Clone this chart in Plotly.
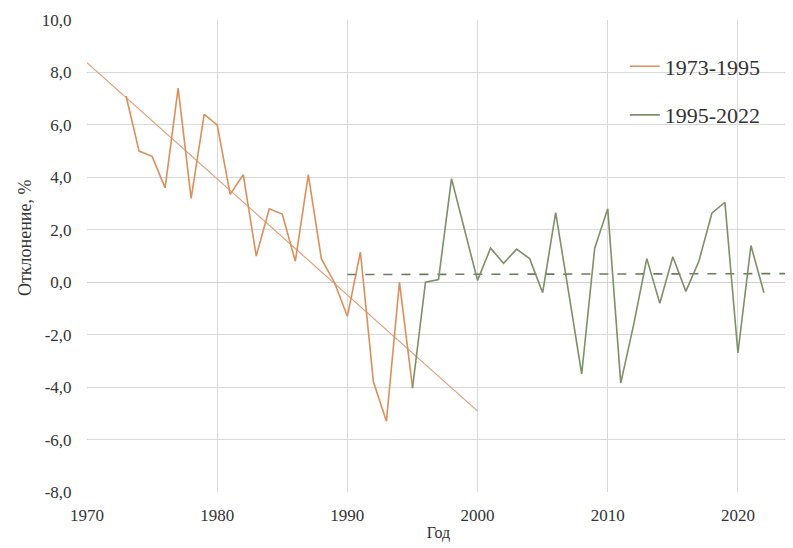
import numpy as np
import plotly.graph_objects as go

# Data
years_a = list(range(1973, 1996))
vals_a = [7.1, 5.0, 4.8, 3.6, 7.4, 3.2, 6.4, 6.0, 3.35, 4.1, 1.0, 2.8, 2.6, 0.8,
          4.1, 0.9, 0.0, -1.3, 1.15, -3.8, -5.3, 0.0, -4.0]

years_b = list(range(1995, 2023))
vals_b = [-4.05, 0.0, 0.1, 3.95, 2.0, 0.07, 1.3, 0.72, 1.26, 0.9, -0.4, 2.65, -0.4,
          -3.5, 1.3, 2.8, -3.85, -1.6, 0.9, -0.8, 0.97, -0.35, 0.8, 2.63, 3.05,
          -2.7, 1.4, -0.4]

name_a = "1973-1995"
name_b = "1995-2022"

y_ticks = [10, 8, 6, 4, 2, 0, -2, -4, -6, -8]
y_ticktext = ["10,0", "8,0", "6,0", "4,0", "2,0", "0,0", "-2,0", "-4,0", "-6,0", "-8,0"]
x_ticks = [1970, 1980, 1990, 2000, 2010, 2020]

trend_a_span = [1970, 2000]
trend_b_span = [1990, 2024]

col_a = "#dc8f5a"
col_a_trend = "#e3a07a"
col_b = "#7b9166"
col_b_trend = "#6b7b5e"

# Linear trendlines fitted from data
ka, ba = np.polyfit(years_a, vals_a, 1)
kb, bb = np.polyfit(years_b, vals_b, 1)
tx_a = np.array(trend_a_span, dtype=float)
tx_b = np.array(trend_b_span, dtype=float)

fig = go.Figure()
fig.add_trace(go.Scatter(x=tx_a, y=ka * tx_a + ba, mode="lines",
                         line=dict(color=col_a_trend, width=1.2),
                         showlegend=False, hoverinfo="skip"))
fig.add_trace(go.Scatter(x=tx_b, y=kb * tx_b + bb, mode="lines",
                         line=dict(color=col_b_trend, width=1.6, dash="dash"),
                         showlegend=False, hoverinfo="skip"))
fig.add_trace(go.Scatter(x=years_a, y=vals_a, mode="lines", name=name_a,
                         legendgroup="a",
                         line=dict(color=col_a, width=1.6)))
fig.add_trace(go.Scatter(x=years_b, y=vals_b, mode="lines", name=name_b,
                         legendgroup="b",
                         line=dict(color=col_b, width=1.6)))

font_family = "Liberation Serif, Times New Roman, serif"

# page body has an 8px margin, so the figure is sized to fit the 793x548 window
fig.update_layout(
    width=785, height=540,
    margin=dict(l=79, r=3, t=12, b=56),
    paper_bgcolor="white", plot_bgcolor="white",
    font=dict(family=font_family, size=17, color="#333333"),
    showlegend=True,
    legend=dict(x=0.765, y=0.946, xanchor="left", yanchor="top",
                bgcolor="rgba(0,0,0,0)", tracegroupgap=17,
                font=dict(family=font_family, size=22, color="#333333")),
    xaxis=dict(range=[1970, 2024], tickvals=x_ticks, showgrid=True,
               gridcolor="#d9d9d9", gridwidth=1, zeroline=False, automargin=False,
               showline=False, ticks="outside", ticklen=8, tickcolor="rgba(0,0,0,0)",
               tickfont=dict(size=17),
               title=dict(text="Год", font=dict(size=16), standoff=2)),
    yaxis=dict(range=[-8, 10], tickvals=y_ticks, ticktext=y_ticktext,
               showgrid=True, gridcolor="#d9d9d9", gridwidth=1, automargin=False,
               zeroline=True, zerolinecolor="#d0d0d0", zerolinewidth=1,
               showline=False, ticks="outside", ticklen=11,
               tickcolor="rgba(0,0,0,0)", tickfont=dict(size=17)),
    annotations=[dict(text="Отклонение, %", xref="paper", yref="paper",
                      x=(25 - 87) / 703, y=(492 - 238) / 472,
                      xanchor="center", yanchor="middle", textangle=-90,
                      showarrow=False, font=dict(size=18, color="#333333"))],
)

fig.write_html("out.html")
